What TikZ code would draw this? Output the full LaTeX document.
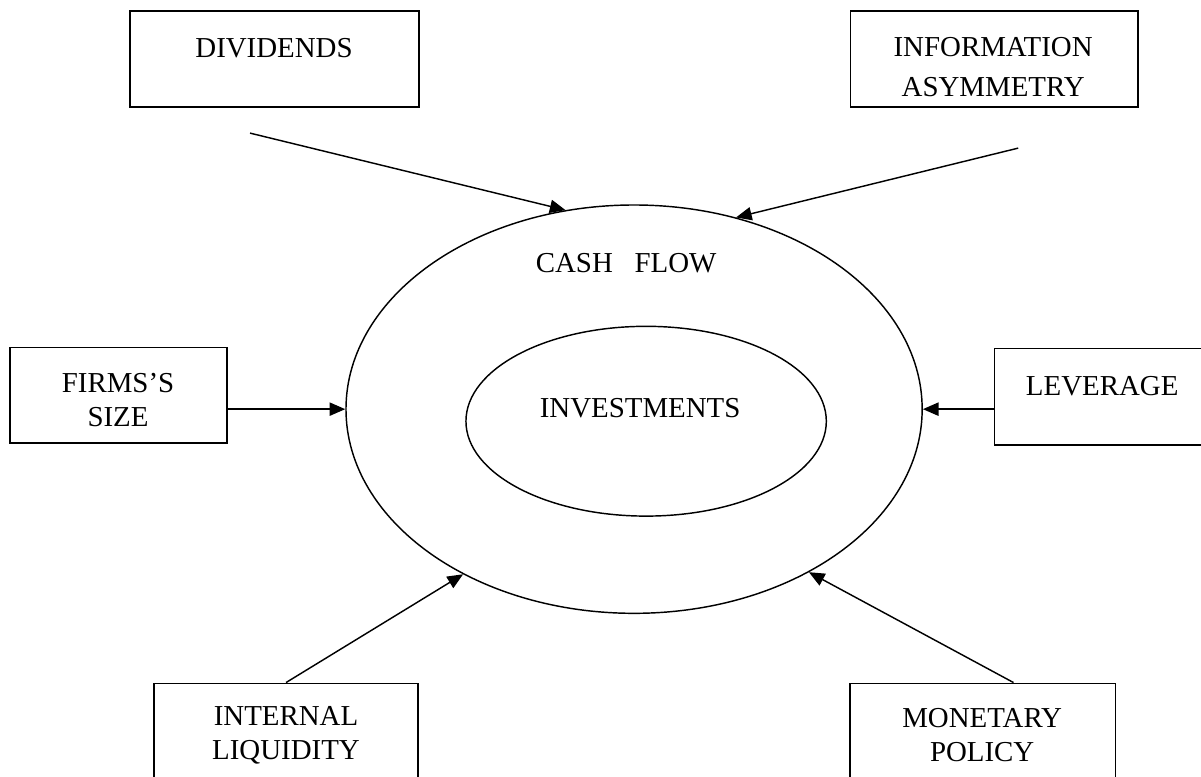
\documentclass[tikz,border=0pt]{standalone}
\usepackage{fontspec}
\setmainfont{Liberation Serif}
\usepackage{xcolor}
\usepackage{tikz}
\usetikzlibrary{shapes.geometric,arrows.meta}
\definecolor{ink}{HTML}{000000}
\definecolor{paper}{HTML}{FFFFFF}
\tikzset{
  base/.style={draw=ink, line width=0.6pt},
  box/.style={base, rectangle, inner sep=0pt},
  ring/.style={base, ellipse, inner sep=0pt},
  arr/.style={draw=ink, line width=0.6pt, -{Triangle[length=6.5pt,width=5.5pt]}},
  lab/.style={text=ink, font=\fontsize{12}{14.2}\selectfont, align=center, inner sep=0pt},
}

\begin{document}
\begin{tikzpicture}
  \clip (0,0) rectangle (17.53,11.33);
  \fill[paper] (0,0) rectangle (17.53,11.33);
  % the two rings
  \node[ring, minimum width=8.41cm, minimum height=5.96cm] (cf) at (9.255,5.358) {};
  \node[ring, minimum width=5.26cm, minimum height=2.77cm] (inv) at (9.431,5.182) {};
  \node[lab] (cftxt) at (9.139,7.489) {CASH\ \ \ FLOW};
  \node[lab] (invtxt) at (9.343,5.372) {INVESTMENTS};
  % factor boxes
  \node[box, minimum width=4.22cm, minimum height=1.40cm] (div) at (4.007,10.467) {};
  \node[box, minimum width=4.20cm, minimum height=1.40cm] (info) at (14.511,10.467) {};
  \node[box, minimum width=3.17cm, minimum height=1.40cm] (firms) at (1.730,5.562) {};
  \node[box, minimum width=3.15cm, minimum height=1.41cm] (lev) at (16.088,5.540) {};
  \node[box, minimum width=3.85cm, minimum height=1.40cm] (liq) at (4.175,0.657) {};
  \node[box, minimum width=3.87cm, minimum height=1.40cm] (mon) at (14.343,0.657) {};
  \node[lab] (divtxt) at (4.000,10.628) {DIVIDENDS};
  \node[lab, font=\fontsize{12}{16.6}\selectfont] (infotxt) at (14.496,10.350) {INFORMATION\\ASYMMETRY};
  \node[lab] (firmstxt) at (1.723,5.489) {FIRMS’S\\SIZE};
  \node[lab] (levtxt) at (16.088,5.693) {LEVERAGE};
  \node[lab] (liqtxt) at (4.175,0.599) {INTERNAL\\LIQUIDITY};
  \node[lab] (montxt) at (14.336,0.599) {MONETARY\\POLICY};
  % arrows into the cash flow ring
  \coordinate (divend) at (3.650,9.387);
  \coordinate (infoend) at (14.861,9.168);
  \draw[arr] (divend) -- (cf.109.4);
  \draw[arr] (infoend) -- (cf.62.7);
  \draw[arr] (firms.east |- cf.west) -- (cf.west);
  \draw[arr] (lev.west |- cf.east) -- (cf.east);
  \draw[arr] (liq.north) -- (cf.224);
  \draw[arr] ([xshift=4.5mm]mon.north) -- (cf.317.5);
\end{tikzpicture}
\end{document}
